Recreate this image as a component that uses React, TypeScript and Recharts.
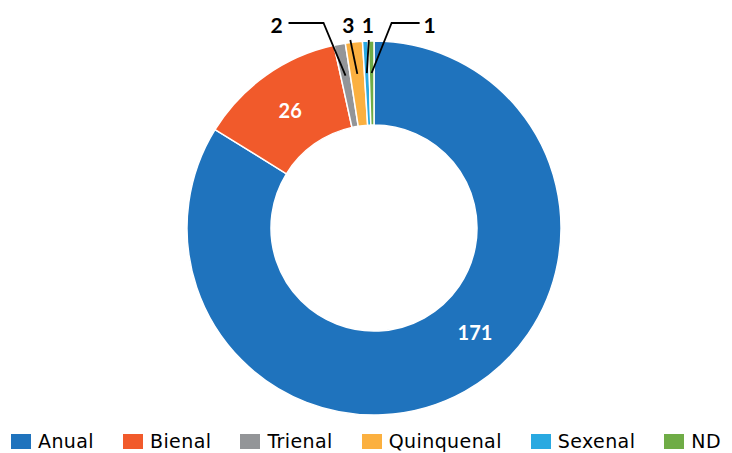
import { PieChart, Pie, Cell, Legend } from 'recharts';

const CATEGORIES = ['Anual', 'Bienal', 'Trienal', 'Quinquenal', 'Sexenal', 'ND'];
const COUNTS = [171, 26, 2, 3, 1, 1];
const COLORS = ['#1f73bd', '#f15a2b', '#939598', '#fbb040', '#29a9e1', '#6fac46'];

const data = CATEGORIES.map((name, i) => ({ name, value: COUNTS[i] }));

const RAD = Math.PI / 180;
const FONT = 'Lato, "Noto Sans", sans-serif';
const LEGEND_FONT = '"DejaVu Sans", Lato, sans-serif';

// big slices: label sits on the ring, with a small angle nudge (deg)
const INNER_SHIFT = [15, 0];

// small slices: callout line layout, keyed by slice index
const CALLOUTS: Record<number, { elbowDx: number; elbowDy: number; lineDx: number; textDx: number }> = {
    2: { elbowDx: -22, elbowDy: -1, lineDx: -35, textDx: -12 },
    3: { elbowDx: -7, elbowDy: 16, lineDx: 0, textDx: -2 },
    4: { elbowDx: 2, elbowDy: 16, lineDx: 0, textDx: -1 },
    5: { elbowDx: 20, elbowDy: -1, lineDx: 28, textDx: 10 },
};

const renderLabel = (props: any) => {
    const { cx, cy, midAngle, innerRadius, outerRadius, index, value } = props;

    if (index < 2) {
        const a = (midAngle + INNER_SHIFT[index]) * RAD;
        const r = (innerRadius + outerRadius) / 2;
        return (
            <text
                x={cx + r * Math.cos(a)}
                y={cy - r * Math.sin(a)}
                fill="#fff"
                textAnchor="middle"
                dominantBaseline="central"
                fontSize={20}
                fontWeight={700}
                fontFamily={FONT}
            >
                {value}
            </text>
        );
    }

    const c = CALLOUTS[index];
    const a = midAngle * RAD;
    const r = outerRadius - 32;
    const ex = cx + r * Math.cos(a);
    const ey = cy - r * Math.sin(a);
    const ty = cy - outerRadius - 17;
    const bx = ex + c.elbowDx;
    const by = ty + c.elbowDy;
    const lx = bx + c.lineDx;

    return (
        <g>
            <polyline
                points={`${ex},${ey} ${bx},${by} ${lx},${by}`}
                fill="none"
                stroke="#000"
                strokeWidth={1.8}
            />
            <text
                x={lx + c.textDx}
                y={ty}
                fill="#000"
                textAnchor="middle"
                dominantBaseline="central"
                fontSize={21}
                fontWeight={700}
                fontFamily={FONT}
            >
                {value}
            </text>
        </g>
    );
};

const LegendRow = () => (
    <div
        style={{
            display: 'flex',
            justifyContent: 'center',
            alignItems: 'center',
            gap: 29,
            fontFamily: LEGEND_FONT,
            fontSize: 19,
            letterSpacing: 0.4,
            color: '#000',
            lineHeight: '20px',
        }}
    >
        {CATEGORIES.map((name, i) => (
            <div key={name} style={{ display: 'flex', alignItems: 'center' }}>
                <span style={{ width: 20, height: 15, background: COLORS[i], marginRight: 7, display: 'inline-block' }} />
                <span>{name}</span>
            </div>
        ))}
    </div>
);

export default function App() {
    return (
        <div style={{ width: 732, height: 453, background: '#fff' }}>
            <style>{'body{margin:0}'}</style>
            <PieChart width={732} height={453} margin={{ top: 0, right: 0, bottom: 0, left: 0 }}>
                <Pie
                    data={data}
                    dataKey="value"
                    nameKey="name"
                    cx={374}
                    cy={228}
                    innerRadius={103}
                    outerRadius={187}
                    startAngle={90}
                    endAngle={-270}
                    stroke="#fff"
                    strokeWidth={1.5}
                    label={renderLabel}
                    labelLine={false}
                    isAnimationActive={false}
                >
                    {data.map((d, i) => (
                        <Cell key={d.name} fill={COLORS[i]} />
                    ))}
                </Pie>
                <Legend
                    content={() => <LegendRow />}
                    wrapperStyle={{ left: 0, top: 431, width: 732, bottom: 'auto' }}
                />
            </PieChart>
        </div>
    );
}
